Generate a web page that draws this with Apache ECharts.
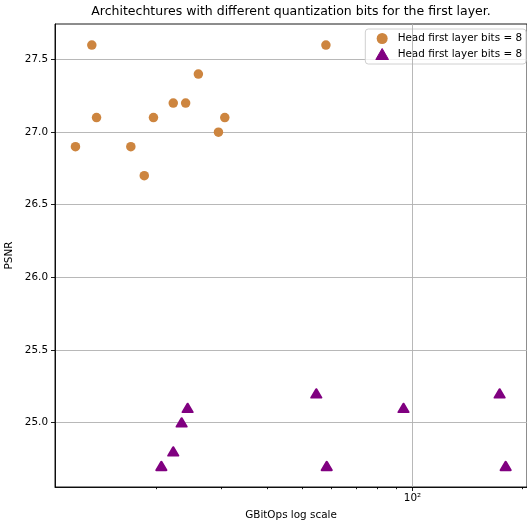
<!DOCTYPE html>
<html><head><meta charset="utf-8">
<script src="https://cdn.jsdelivr.net/npm/echarts@6/dist/echarts.min.js"></script>
<style>html,body{margin:0;padding:0;background:#fff}#c{width:527px;height:523px}</style>
</head><body><div id="c"></div>
<script>
const circleX = [12.0, 13.3, 13.7, 17.0, 18.5, 19.6, 22.2, 24.0, 26.0, 29.5, 30.7, 58.0];
const circleY = [26.9, 27.6, 27.1, 26.9, 26.7, 27.1, 27.2, 27.2, 27.4, 27.0, 27.1, 27.6];
const triX = [20.6, 22.2, 23.4, 24.3, 54.6, 58.3, 94.5, 173.0, 179.7];
const triY = [24.7, 24.8, 25.0, 25.1, 25.2, 24.7, 25.1, 25.2, 24.7];
const yTicks = [25.0, 25.5, 26.0, 26.5, 27.0, 27.5];
const xMajorTicks = [100];
const xMinorTicks = [20, 30, 40, 50, 60, 70, 80, 90, 200];
const legendLabels = ['Head first layer bits = 8', 'Head first layer bits = 8'];
const titleText = 'Architechtures with different quantization bits for the first layer.';
const xName = 'GBitOps log scale';
const yName = 'PSNR';

const FONT = 'DejaVu Sans';
const labelMap = { s0: legendLabels[0], s1: legendLabels[1] };
const zip = (xs, ys) => xs.map((x, i) => [x, ys[i]]);

const chart = echarts.init(document.getElementById('c'), null, { renderer: 'canvas' });
chart.setOption({
  animation: false,
  backgroundColor: '#fff',
  textStyle: { fontFamily: FONT },
  title: {
    text: titleText, left: 291, top: 5, textAlign: 'center', padding: 0,
    textStyle: { fontFamily: FONT, fontSize: 12.5, fontWeight: 'normal', color: '#000' }
  },
  grid: { left: 55, right: 0, top: 24, bottom: 36, show: true, borderColor: '#000', borderWidth: 0.9,
    containLabel: false, outerBoundsMode: 'none' },
  legend: {
    orient: 'vertical', right: 1, top: 29,
    padding: [4, 4, 4, 10], itemGap: 4, itemWidth: 21, itemHeight: 11,
    symbolKeepAspect: true,
    backgroundColor: 'rgba(255,255,255,0.8)', borderColor: '#d0d0d0', borderWidth: 1, borderRadius: 3,
    data: [{ name: 's0', icon: 'circle' },
           { name: 's1', icon: 'path://M6,0 L12,10.4 L0,10.4 Z', itemStyle: { borderWidth: 1, borderJoin: 'round' } }],
    formatter: n => labelMap[n],
    textStyle: { fontFamily: FONT, fontSize: 10.4, color: '#000' }
  },
  xAxis: [{
    type: 'log', logBase: 10, min: 10.55, max: 205.5, position: 'bottom',
    name: xName, nameLocation: 'middle', nameGap: 23,
    nameTextStyle: { fontFamily: FONT, fontSize: 10.4, color: '#000' },
    axisLine: { show: true, lineStyle: { color: '#000', width: 0.9 } },
    axisTick: { show: true, length: 4, lineStyle: { color: '#000', width: 0.9 }, customValues: xMajorTicks },
    axisLabel: { show: true, margin: 6, color: '#000', fontFamily: FONT, fontSize: 10.4,
      customValues: xMajorTicks,
      formatter: v => '10' + String.fromCharCode(0x00B2) },
    splitLine: { show: false }, minorTick: { show: false }
  }, {
    type: 'log', logBase: 10, min: 10.55, max: 205.5, position: 'bottom',
    axisLine: { show: false },
    axisTick: { show: true, length: 2.2, lineStyle: { color: '#000', width: 0.9 }, customValues: xMinorTicks },
    axisLabel: { show: false },
    splitLine: { show: false }
  }],
  yAxis: {
    type: 'value', min: 24.555, max: 27.745,
    name: yName, nameLocation: 'middle', nameGap: 38, nameRotate: 90,
    nameTextStyle: { fontFamily: FONT, fontSize: 10.4, color: '#000' },
    axisLine: { show: true, lineStyle: { color: '#000', width: 0.9 } },
    axisTick: { show: true, length: 4, lineStyle: { color: '#000', width: 0.9 }, customValues: yTicks },
    axisLabel: { show: true, margin: 7, color: '#000', fontFamily: FONT, fontSize: 10.4,
      customValues: yTicks, formatter: v => Number(v).toFixed(1) },
    splitLine: { show: true, lineStyle: { color: '#b0b0b0', width: 0.9 } }
  },
  series: [{
    id: 's0', name: 's0', type: 'scatter', xAxisIndex: 0, yAxisIndex: 0,
    symbol: 'circle', symbolSize: 9.5,
    itemStyle: { color: '#cd853f', opacity: 1 },
    data: zip(circleX, circleY),
    markLine: {
      silent: true, symbol: ['none', 'none'], animation: false,
      label: { show: false },
      lineStyle: { color: '#b0b0b0', width: 0.9, type: 'solid' },
      emphasis: { disabled: true },
      data: xMajorTicks.map(v => ({ xAxis: v }))
    },
    z: 3
  }, {
    id: 's1', name: 's1', type: 'scatter', xAxisIndex: 0, yAxisIndex: 0,
    symbol: 'triangle', symbolSize: [10, 8.5],
    itemStyle: { color: '#800080', borderColor: '#800080', borderWidth: 2, borderJoin: 'round', opacity: 1 },
    data: zip(triX, triY),
    z: 3
  }]
});
</script>
</body></html>
